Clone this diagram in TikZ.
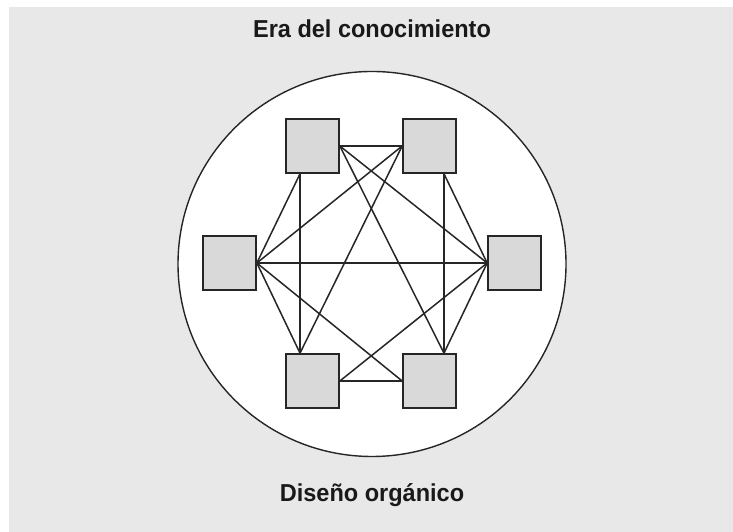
\documentclass[tikz,border=0pt]{standalone}
\usepackage{fontspec}
\usetikzlibrary{shapes.geometric}
\setmainfont{Liberation Sans}[FakeStretch=0.96]
\definecolor{bggray}{HTML}{E8E8E8}
\definecolor{boxgray}{HTML}{D9D9D9}
\begin{document}
\begin{tikzpicture}[x=1pt,y=1pt,
  unit/.style={draw=black!85,fill=boxgray,line width=1.7pt,minimum width=53pt,minimum height=54pt,inner sep=0pt},
  link/.style={draw=black!85,line width=1.5pt},
  title/.style={font=\bfseries\fontsize{24.5}{28}\selectfont,text=black!90}]
\useasboundingbox (0,0) rectangle (733,532);
\fill[white] (0,0) rectangle (733,532);
\fill[bggray] (9,0) rectangle (733,525);
\node[draw=black!85,fill=white,line width=1.4pt,ellipse,minimum width=388pt,minimum height=385pt,inner sep=0pt] (circ) at (372,268) {};
\node[unit] (TL) at (312.5,386) {};
\node[unit] (TR) at (429.5,386) {};
\node[unit] (L) at (229.5,269) {};
\node[unit] (R) at (514.5,269) {};
\node[unit] (BL) at (312.5,151) {};
\node[unit] (BR) at (429.5,151) {};
\coordinate (TLb) at ([xshift=-12.5pt]TL.south);
\coordinate (TRb) at ([xshift=14.5pt]TR.south);
\coordinate (BLt) at ([xshift=-12.5pt]BL.north);
\coordinate (BRt) at ([xshift=14.5pt]BR.north);
\draw[link] (TL.east) -- (TR.west);
\draw[link] (TL.east) -- (R.west);
\draw[link] (TL.east) -- (BRt);
\draw[link] (TR.west) -- (L.east);
\draw[link] (TR.west) -- (BLt);
\draw[link] (TLb) -- (L.east);
\draw[link] (TLb) -- (BLt);
\draw[link] (TRb) -- (R.west);
\draw[link] (TRb) -- (BRt);
\draw[link] (L.east) -- (R.west);
\draw[link] (L.east) -- (BLt);
\draw[link] (L.east) -- (BR.west);
\draw[link] (R.west) -- (BL.east);
\draw[link] (R.west) -- (BRt);
\draw[link] (BL.east) -- (BR.west);
\node[title] (top) at (372,503) {Era del conocimiento};
\node[title] (bottom) at (372,37) {Diseño orgánico};
\end{tikzpicture}
\end{document}
